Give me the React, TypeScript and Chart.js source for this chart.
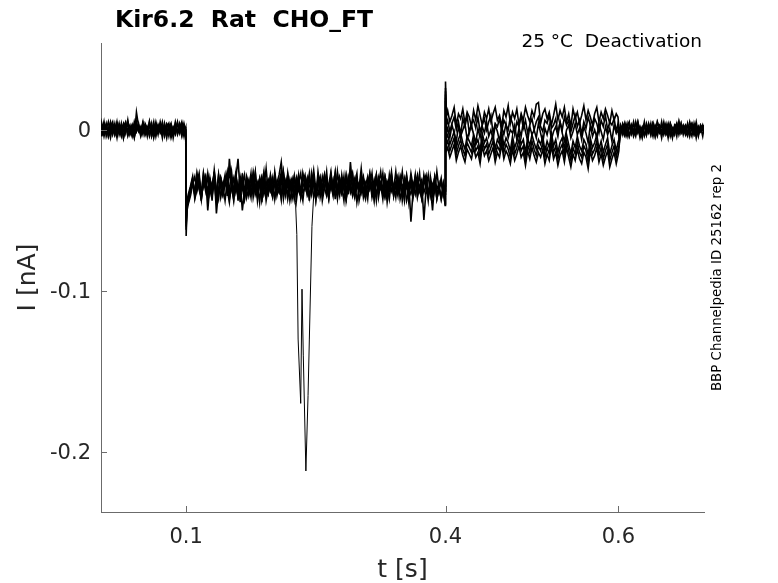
import { useEffect, useRef } from 'react';
import { Chart, registerables } from 'chart.js';

Chart.register(...registerables);

// Sample times shared by every sweep (ms)
const sweepTimesMs = [
  // holding before the step
  1.5, 2.5, 5, 7.5, 10, 12.5, 15, 17.5, 20, 22.5,
  25, 27.5, 30, 32.5, 35, 37.5, 40, 42.5, 45, 47.5,
  50, 52.5, 55, 57.5, 60, 62.5, 65, 67.5, 70, 72.5,
  75, 77.5, 80, 82.5, 85, 87.5, 90, 92.5, 95, 97.5,
  99.5,
  // step at 0.1 s
  100, 101,
  // pulse
  102.5, 105, 107.5, 110, 112.5, 115, 117.5, 120, 122.5, 125,
  127.5, 130, 132.5, 135, 137.5, 140, 142.5, 145, 147.5, 150,
  152.5, 155, 157.5, 160, 162.5, 165, 167.5, 170, 172.5, 175,
  177.5, 180, 182.5, 185, 187.5, 190, 192.5, 195, 197.5, 200,
  202.5, 205, 207.5, 210, 212.5, 215, 217.5, 220, 222.5, 225,
  227.5, 230, 232.5, 235, 237.5, 240, 242.5, 245, 247.5, 250,
  252.5, 255, 257.5, 260, 262.5, 265, 267.5, 270, 272.5, 275,
  277.5, 280, 282.5, 285, 287.5, 290, 292.5, 295, 297.5, 300,
  302.5, 305, 307.5, 310, 312.5, 315, 317.5, 320, 322.5, 325,
  327.5, 330, 332.5, 335, 337.5, 340, 342.5, 345, 347.5, 350,
  352.5, 355, 357.5, 360, 362.5, 365, 367.5, 370, 372.5, 375,
  377.5, 380, 382.5, 385, 387.5, 390, 392.5, 395, 397.5, 399.5,
  // step at 0.4 s
  400, 401,
  // deactivation
  402.5, 405, 407.5, 410, 412.5, 415, 417.5, 420, 422.5, 425,
  427.5, 430, 432.5, 435, 437.5, 440, 442.5, 445, 447.5, 450,
  452.5, 455, 457.5, 460, 462.5, 465, 467.5, 470, 472.5, 475,
  477.5, 480, 482.5, 485, 487.5, 490, 492.5, 495, 497.5, 500,
  502.5, 505, 507.5, 510, 512.5, 515, 517.5, 520, 522.5, 525,
  527.5, 530, 532.5, 535, 537.5, 540, 542.5, 545, 547.5, 550,
  552.5, 555, 557.5, 560, 562.5, 565, 567.5, 570, 572.5, 575,
  577.5, 580, 582.5, 585, 587.5, 590, 592.5, 595, 597.5, 599.5,
  // step at 0.6 s
  600.5,
  // back to holding
  602.5, 605, 607.5, 610, 612.5, 615, 617.5, 620, 622.5, 625,
  627.5, 630, 632.5, 635, 637.5, 640, 642.5, 645, 647.5, 650,
  652.5, 655, 657.5, 660, 662.5, 665, 667.5, 670, 672.5, 675,
  677.5, 680, 682.5, 685, 687.5, 690, 692.5, 695, 697.5, 699,
];

// Current of each sweep at those times, in pA (1e-3 nA)
const sweep1 = [
  3, -2, 5, -4, 1, 4, -3, 2, -5, 3,
  0, 4, -2, 6, -3, 1, -4, 3, 2, -1,
  5, -3, 2, -2, 4, -5, 1, 3, -1, 5,
  -2, 2, -4, 3, 0, -3, 4, -1, 2, -3,
  1,
  -66, -48,
  -44, -38, -31, -40, -27, -36, -42, -33, -29, -50,
  -34, -39, -25, -37, -43, -30, -35, -28, -41, -18,
  -33, -38, -26, -44, -31, -36, -40, -29, -35, -42,
  -27, -38, -33, -45, -30, -36, -24, -39, -34, -41,
  -28, -37, -32, -43, -26, -35, -40, -31, -38, -29,
  -44, -33, -27, -39, -36, -30, -42, -34, -25, -37,
  -41, -32, -38, -28, -35, -43, -30, -36, -26, -40,
  -33, -39, -29, -44, -34, -27, -37, -41, -31, -36,
  -24, -38, -43, -32, -29, -40, -35, -28, -42, -33,
  -37, -30, -45, -35, -26, -39, -34, -41, -29, -36,
  -32, -44, -38, -27, -35, -40, -31, -37, -43, -30,
  -36, -28, -41, -34, -39, -26, -37, -42, -33, -38,
  30, 8,
  12, 5, 9, 14, 3, 10, 7, 13, 4, 11,
  8, 2, 12, 6, 15, 9, 3, 11, 7, 13,
  5, 10, 14, 6, 9, 2, 12, 8, 15, 4,
  11, 7, 13, 3, 10, 6, 14, 9, 5, 12,
  8, 16, 17, 4, 10, 13, 7, 11, 3, 9,
  16, 6, 12, 8, 14, 5, 10, 2, 13, 7,
  11, 4, 9, 15, 6, 12, 8, 3, 10, 14,
  5, 11, 7, 13, 9, 4, 12, 6, 10, 8,
  2,
  -3, 4, 1, -4, 3, -1, 5, -2, 2, -5,
  0, 3, -3, 4, -1, 2, -4, 5, 1, -2,
  3, -3, 0, 4, -4, 2, -1, 5, -2, 1,
  -3, 3, 0, -4, 4, -2, 2, -1, 3, 0,
];

const sweep2 = [
  -2, 4, -1, 3, -4, 2, 5, -3, 1, -2,
  4, -5, 2, 0, 3, -3, 5, -1, 2, -4,
  1, 3, -2, 4, -4, 0, 2, -3, 5, -1,
  3, -2, 1, 4, -5, 2, -1, 3, -3, 4,
  -1,
  -52, -46,
  -42, -36, -30, -39, -33, -27, -41, -35, -29, -38,
  -32, -44, -26, -52, -37, -31, -40, -34, -28, -43,
  -36, -30, -39, -33, -45, -27, -38, -32, -41, -35,
  -29, -37, -42, -31, -36, -26, -40, -34, -38, -30,
  -43, -33, -28, -20, -35, -39, -31, -44, -36, -29,
  -38, -33, -41, -27, -35, -40, -30, -37, -32, -43,
  -26, -36, -39, -31, -34, -42, -28, -37, -33, -40,
  -30, -35, -44, -29, -38, -32, -27, -41, -36, -33,
  -39, -30, -35, -43, -28, -37, -31, -40, -34, -26,
  -38, -42, -32, -36, -29, -41, -33, -37, -30, -44,
  -35, -28, -39, -33, -40, -31, -36, -27, -42, -34,
  -30, -38, -35, -41, -29, -37, -33, -43, -36, -40,
  24, 3,
  6, -1, 4, 8, 0, 5, -3, 7, 2, 9,
  -2, 4, 6, 1, 8, -1, 3, 7, 0, 5,
  9, -2, 4, 2, 7, -1, 6, 3, 0, 8,
  4, -3, 5, 2, 9, 1, 6, -2, 3, 7,
  0, 5, 8, 2, -1, 6, 4, 9, 1, 3,
  7, -2, 5, 0, 8, 3, 6, -1, 4, 9,
  2, 6, -3, 5, 1, 8, 3, 0, 7, 4,
  -2, 6, 2, 9, 0, 5, 3, 7, -1, 4,
  -1,
  2, -3, 4, 0, -4, 3, -2, 5, -1, 2,
  -4, 3, 1, -2, 4, -3, 0, 5, -1, 3,
  -2, 2, -5, 4, 1, -3, 3, -1, 4, -2,
  0, 3, -4, 2, -1, 5, -3, 1, 2, -2,
];

const sweep3 = [
  1, -4, 3, 0, 5, -2, 2, -3, 4, -1,
  3, -5, 0, 4, -2, 3, -4, 11, 2, -3,
  4, 0, -2, 5, -4, 1, 3, -1, 2, -5,
  4, -2, 0, 3, -3, 5, -1, 2, -4, 3,
  0,
  -58, -50,
  -46, -41, -34, -29, -38, -32, -43, -27, -36, -40,
  -31, -35, -28, -42, -37, -30, -39, -33, -26, -41,
  -35, -44, -29, -37, -32, -50, -38, -30, -36, -27,
  -42, -34, -39, -31, -45, -28, -36, -40, -33, -37,
  -29, -41, -35, -26, -38, -32, -43, -34, -30, -39,
  -36, -28, -42, -33, -37, -31, -44, -27, -35, -40,
  -32, -38, -29, -36, -41, -34, -26, -39, -33, -43,
  -30, -37, -35, -28, -40, -20, -36, -42, -31, -38,
  -34, -29, -41, -35, -27, -39, -33, -44, -30, -37,
  -36, -31, -40, -28, -38, -34, -42, -30, -36, -26,
  -39, -33, -45, -31, -37, -29, -41, -35, -38, -32,
  -28, -40, -34, -37, -30, -43, -36, -33, -39, -35,
  26, -2,
  1, -5, 3, -2, -7, 2, -4, 0, 4, -6,
  -1, 3, -3, -8, 1, -5, 2, -2, 5, -4,
  0, -6, 3, -1, -7, 2, -3, 4, -5, 0,
  -2, 3, -6, 1, -4, 5, -1, -7, 2, -3,
  0, -5, 4, -2, -8, 1, -3, 3, -6, -1,
  2, -4, 5, -2, -7, 0, 3, -5, -1, 4,
  -3, 1, -6, 2, -2, -8, 3, -4, 0, -5,
  4, -1, -6, 2, -3, 1, -7, 3, -2, 0,
  -4,
  3, -1, -4, 2, 5, -3, 0, 4, -2, 1,
  -5, 3, -1, 2, -3, 4, 0, -4, 2, -1,
  5, -2, 3, -4, 1, -1, 4, -3, 2, 0,
  -2, 4, -3, 1, 3, -5, 2, -1, 0, 3,
];

const sweep4 = [
  -3, 2, -1, 4, -4, 1, 3, -2, 5, -3,
  2, -1, 4, -4, 0, 3, -2, 5, -1, 2,
  -3, 4, 1, -4, 2, -2, 5, -1, 0, 3,
  -4, 1, 4, -3, 2, -1, 5, -2, 3, -4,
  2,
  -62, -44,
  -40, -35, -29, -43, -37, -31, -39, -27, -34, -42,
  -30, -38, -33, -45, -28, -36, -41, -32, -37, -26,
  -35, -43, -30, -18, -39, -34, -28, -42, -36, -31,
  -38, -27, -44, -33, -29, -40, -35, -31, -37, -42,
  -26, -36, -39, -30, -43, -34, -28, -38, -32, -41,
  -35, -29, -37, -44, -31, -36, -27, -40, -33, -38,
  -30, -42, -35, -28, -39, -34, -37, -31, -43, -26,
  -36, -40, -32, -38, -29, -35, -41, -33, -27, -44,
  -37, -31, -39, -34, -30, -42, -36, -28, -38, -33,
  -40, -29, -35, -43, -31, -37, -26, -39, -34, -41,
  -30, -36, -33, -57, -38, -28, -42, -35, -31, -39,
  -34, -44, -29, -37, -32, -40, -36, -30, -41, -38,
  18, -5,
  -3, -9, -5, -1, -11, -6, -2, -8, -12, -4,
  -7, -10, -3, -9, -6, -13, -2, -8, -5, -11,
  -7, -3, -12, -6, -9, -1, -10, -5, -8, -13,
  -4, -11, -7, -2, -9, -6, -14, -5, -10, -3,
  -8, -12, -6, -9, -4, -13, -7, -11, -2, -10,
  -6, -14, -8, -5, -12, -3, -9, -15, -7, -11,
  -4, -10, -13, -6, -9, -16, -5, -11, -8, -3,
  -12, -7, -14, -9, -5, -15, -10, -6, -13, -8,
  -6,
  -1, 3, -3, 2, 4, -2, 0, -4, 3, 1,
  -2, 5, -3, 2, -1, 4, -4, 1, 3, -2,
  0, 4, -3, 2, -5, 3, 1, -1, 4, -3,
  2, -2, 5, 0, -3, 3, -1, 2, -4, 1,
];

const sweep5 = [
  2, -3, 4, -1, 1, -5, 3, 0, -2, 4,
  -3, 2, 5, -2, 1, -4, 3, -1, 4, -3,
  0, 2, -4, 5, -1, 3, -3, 1, 4, -2,
  2, -5, 3, 0, -2, 4, -3, 1, 5, -1,
  -2,
  -55, -43,
  -45, -39, -33, -41, -28, -37, -43, -31, -36, -29,
  -40, -34, -27, -42, -38, -30, -35, -44, -32, -37,
  -26, -39, -33, -41, -29, -36, -43, -31, -38, -34,
  -27, -40, -35, -30, -44, -37, -32, -39, -28, -36,
  -42, -33, -38, -29, -35, -41, -27, -37, -34, -43,
  -30, -36, -39, -32, -28, -40, -35, -31, -42, -37,
  -33, -29, -44, -36, -30, -38, -34, -41, -27, -35,
  -39, -32, -37, -43, -30, -36, -28, -40, -34, -38,
  -31, -42, -35, -29, -37, -33, -44, -30, -39, -36,
  -27, -41, -34, -38, -32, -40, -35, -29, -43, -37,
  -31, -36, -39, -30, -42, -34, -28, -38, -33, -56,
  -37, -41, -35, -50, -32, -39, -36, -43, -34, -47,
  22, -9,
  -7, -13, -9, -5, -15, -10, -6, -12, -16, -8,
  -11, -14, -7, -13, -10, -17, -6, -12, -9, -15,
  -11, -7, -16, -10, -13, -5, -14, -9, -12, -17,
  -8, -15, -11, -6, -13, -10, -18, -9, -14, -7,
  -12, -16, -10, -13, -8, -17, -11, -15, -6, -14,
  -10, -18, -12, -9, -16, -7, -13, -19, -11, -15,
  -8, -14, -17, -10, -13, -20, -9, -15, -12, -7,
  -16, -11, -18, -13, -9, -19, -14, -10, -17, -12,
  -10,
  -3, 2, -1, 4, -4, 1, 3, -2, 5, -1,
  2, -4, 0, 3, -3, 4, 1, -2, 2, -5,
  3, -1, 4, -3, 0, 2, -4, 5, -2, 1,
  3, -3, 0, 4, -1, 2, -4, 3, 1, -2,
];

const sweep6 = [
  -1, 3, -4, 2, 0, 5, -2, 4, -3, 1,
  -4, 3, -1, 5, -2, 2, -5, 1, 3, -2,
  4, -3, 0, 2, -1, 5, -4, 3, -2, 1,
  -3, 4, 2, -5, 0, 3, -2, 4, -1, 2,
  0,
  -60, -47,
  -43, -37, -32, -40, -35, -29, -44, -31, -38, -27,
  -36, -41, -33, -39, -28, -42, -35, -30, -37, -45,
  -32, -38, -27, -40, -34, -29, -43, -36, -31, -39,
  -35, -26, -41, -33, -38, -30, -44, -36, -29, -40,
  -34, -37, -31, -42, -27, -39, -35, -32, -43, -36,
  -30, -38, -41, -28, -35, -33, -40, -37, -29, -44,
  -34, -31, -39, -36, -26, -42, -33, -38, -30, -35,
  -41, -28, -37, -43, -32, -39, -34, -30, -45, -36,
  -29, -38, -33, -40, -35, -27, -42, -31, -37, -34,
  -43, -30, -39, -36, -28, -41, -33, -38, -32, -35,
  -44, -29, -37, -40, -34, -31, -39, -36, -42, -28,
  -35, -41, -33, -38, -30, -43, -37, -32, -39, -46,
  20, -13,
  -11, -17, -13, -9, -19, -14, -10, -16, -20, -12,
  -15, -18, -11, -17, -14, -21, -10, -16, -13, -19,
  -15, -11, -20, -14, -17, -9, -18, -13, -16, -21,
  -12, -19, -15, -10, -17, -14, -22, -13, -18, -11,
  -16, -20, -14, -17, -12, -21, -15, -19, -10, -18,
  -14, -22, -16, -13, -20, -11, -17, -23, -15, -19,
  -12, -18, -21, -14, -17, -24, -13, -19, -16, -11,
  -20, -15, -22, -17, -13, -23, -18, -14, -21, -16,
  -13,
  2, -2, 4, -3, 1, 3, -4, 0, 5, -2,
  1, -3, 4, -1, 2, -4, 3, 0, -2, 5,
  -3, 1, 3, -1, -4, 2, 4, -2, 0, 3,
  -1, -4, 2, 4, -3, 1, -2, 3, 0, -1,
];

// Short artefact seen in one sweep around 0.23 s
const glitchTimesMs = [224, 226.5, 228, 229.5, 232.5, 234, 235.5, 238.5, 241, 242.5, 245.5, 248];
const glitchValues = [-34, -45, -65, -130, -170, -99, -140, -212, -165, -130, -60, -36];

const sweeps = [sweep1, sweep2, sweep3, sweep4, sweep5, sweep6];

const xTickValues = [0.1, 0.4, 0.6];
const yTickValues = [-0.2, -0.1, 0];

const titleText = 'Kir6.2  Rat  CHO_FT';
const conditionText = '25 °C  Deactivation';
const sourceText = 'BBP Channelpedia ID 25162 rep 2';
const xLabel = 't [s]';
const yLabel = 'I [nA]';

const FONT = '"DejaVu Sans", sans-serif';
const AXIS_COLOR = '#6b6b6b';
const TEXT_COLOR = '#262626';

const decorations = {
  id: 'decorations',
  afterDraw(chart: any) {
    const { ctx, chartArea, scales } = chart;
    ctx.save();

    // ticks pointing into the plot, matlab style
    ctx.strokeStyle = AXIS_COLOR;
    ctx.lineWidth = 1;
    ctx.beginPath();
    scales.x.ticks.forEach((t: any) => {
      const px = Math.round(scales.x.getPixelForValue(t.value)) + 0.5;
      ctx.moveTo(px, chartArea.bottom);
      ctx.lineTo(px, chartArea.bottom - 6);
    });
    scales.y.ticks.forEach((t: any) => {
      const py = Math.round(scales.y.getPixelForValue(t.value)) + 0.5;
      ctx.moveTo(chartArea.left, py);
      ctx.lineTo(chartArea.left + 6, py);
    });
    ctx.stroke();

    // title
    ctx.fillStyle = '#000';
    ctx.font = `bold 23.5px ${FONT}`;
    ctx.textAlign = 'left';
    ctx.textBaseline = 'alphabetic';
    ctx.fillText(titleText, 115, 27);

    ctx.font = `18.5px ${FONT}`;
    ctx.textAlign = 'right';
    ctx.fillText(conditionText, 702, 47);

    // axis labels
    const midY = (chartArea.top + chartArea.bottom) / 2;
    ctx.fillStyle = TEXT_COLOR;
    ctx.font = `25px ${FONT}`;
    ctx.textAlign = 'center';
    ctx.fillText(xLabel, (chartArea.left + chartArea.right) / 2, 577);

    ctx.save();
    ctx.translate(35, midY);
    ctx.rotate(-Math.PI / 2);
    ctx.fillText(yLabel, 0, 0);
    ctx.restore();

    // source note on the right
    ctx.save();
    ctx.fillStyle = '#000';
    ctx.font = `13.4px ${FONT}`;
    ctx.translate(721, midY);
    ctx.rotate(-Math.PI / 2);
    ctx.fillText(sourceText, 0, 0);
    ctx.restore();

    ctx.restore();
  },
};

const App = () => {
  const canvasRef = useRef<HTMLCanvasElement>(null);
  const chartRef = useRef<Chart | null>(null);

  useEffect(() => {
    document.body.style.margin = '0';
    if (!canvasRef.current) return;

    const datasets = sweeps.map((values) => ({
      data: sweepTimesMs.map((t, i) => ({ x: t / 1000, y: values[i] / 1000 })),
      borderColor: '#000',
      borderWidth: 1.6,
      pointRadius: 0,
      tension: 0,
      fill: false,
    }));
    datasets.push({
      data: glitchTimesMs.map((t, i) => ({ x: t / 1000, y: glitchValues[i] / 1000 })),
      borderColor: '#000',
      borderWidth: 1,
      pointRadius: 0,
      tension: 0,
      fill: false,
    });

    if (chartRef.current) chartRef.current.destroy();

    chartRef.current = new Chart(canvasRef.current, {
      type: 'line',
      data: { datasets },
      options: {
        responsive: false,
        animation: false,
        layout: { padding: { left: 0, top: 43, right: 74, bottom: 0 } },
        plugins: {
          legend: { display: false },
          tooltip: { enabled: false },
          title: { display: false },
        },
        scales: {
          x: {
            type: 'linear',
            min: 0.0015,
            max: 0.699,
            afterBuildTicks: (scale: any) => {
              scale.ticks = xTickValues.map((v) => ({ value: v }));
            },
            afterFit: (scale: any) => {
              scale.height = 71;
            },
            grid: { display: false, drawTicks: false },
            border: { display: true, color: AXIS_COLOR, width: 1 },
            ticks: {
              color: TEXT_COLOR,
              font: { family: FONT, size: 21 },
              padding: 13,
              maxRotation: 0,
              callback: (v: any) => String(v),
            },
          },
          y: {
            type: 'linear',
            min: -0.2375,
            max: 0.054,
            afterBuildTicks: (scale: any) => {
              scale.ticks = yTickValues.map((v) => ({ value: v }));
            },
            afterFit: (scale: any) => {
              scale.width = 101;
            },
            grid: { display: false, drawTicks: false },
            border: { display: true, color: AXIS_COLOR, width: 1 },
            ticks: {
              color: TEXT_COLOR,
              font: { family: FONT, size: 21 },
              padding: 10,
              labelOffset: 2,
              callback: (v: any) => String(v),
            },
          },
        },
      },
      plugins: [decorations],
    });

    return () => {
      if (chartRef.current) {
        chartRef.current.destroy();
        chartRef.current = null;
      }
    };
  }, []);

  return (
    <div style={{ width: 778, height: 583, background: '#fff' }}>
      <canvas ref={canvasRef} width={778} height={583} />
    </div>
  );
};

export default App;
